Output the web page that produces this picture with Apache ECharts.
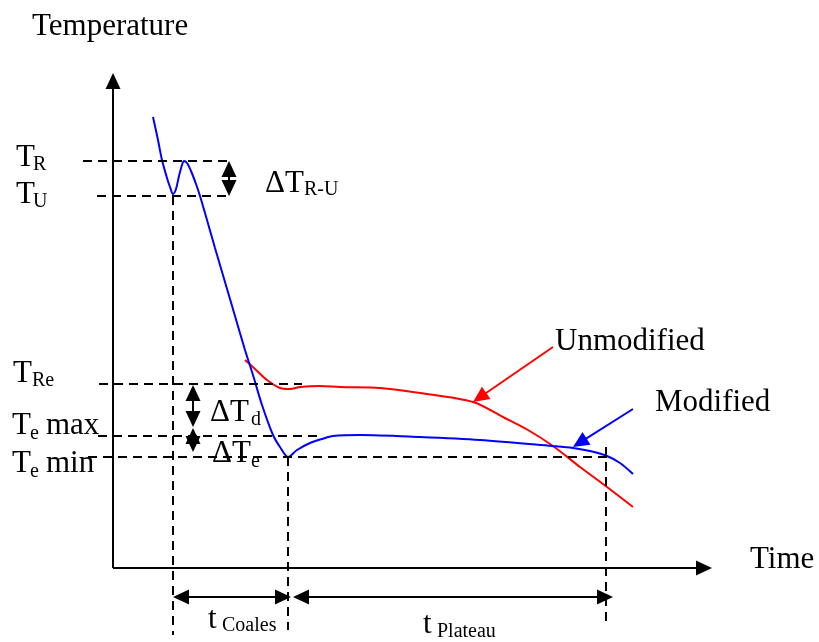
<!DOCTYPE html>
<html>
<head>
<meta charset="utf-8">
<script src="https://cdn.jsdelivr.net/npm/echarts@6/dist/echarts.min.js"></script>
<style>
  html, body { margin: 0; background: #fff; }
  #chart { width: 819px; height: 642px; }
</style>
</head>
<body>
<div id="chart"></div>
<script>
// cooling curves, arbitrary units (time right, temperature up)
const modifiedTime = [40, 45, 49, 54, 57, 60, 63, 66, 69, 71, 74, 78, 83, 87, 94, 102, 112, 122, 132, 140, 149, 160, 167, 175, 184, 197, 209, 220, 247, 307, 367, 439, 460, 477, 494, 507, 520];
const modifiedTemp = [451, 428, 408, 390, 381, 374, 379, 392, 403, 407, 405, 397, 384, 372, 348, 320, 286, 252, 218, 193, 163, 133, 121, 111, 118, 125, 129, 132, 133, 131, 128, 122, 120, 117, 112, 105, 94];
const unmodifiedTime = [132, 142, 154, 167, 177, 187, 207, 227, 267, 307, 360, 390, 415, 440, 467, 494, 520];
const unmodifiedTemp = [208, 199, 188, 180, 179, 181, 182, 181, 180, 175, 166, 151, 138, 122, 101, 81, 61];

// characteristic levels
const tempR = 407, tempU = 372, tempRe = 184, tempEMax = 132, tempEMin = 111;
const timeU = 60, timeEMin = 175, timePlateauEnd = 493;

const black = '#000';
const dashed = { color: black, width: 2, type: [9, 6] };
const solid = { color: black, width: 2, type: 'solid' };

// markLine puts the symbol centre on the end point, so pull arrow ends in by half a head
function seg(a, b, style, heads) {
  heads = heads || [false, false];
  const dx = b[0] - a[0], dy = b[1] - a[1];
  const len = Math.hypot(dx, dy), h = 8;
  const ux = dx / len, uy = dy / len;
  const p = heads[0] ? [a[0] + ux * h, a[1] + uy * h] : a;
  const q = heads[1] ? [b[0] - ux * h, b[1] - uy * h] : b;
  return [
    { coord: p, symbol: heads[0] ? 'triangle' : 'none', symbolSize: [15, 16], lineStyle: style },
    { coord: q, symbol: heads[1] ? 'triangle' : 'none', symbolSize: [15, 16], lineStyle: style }
  ];
}

const guides = [
  // axes
  seg([0, 0], [599, 0], solid, [false, true]),
  seg([0, 0], [0, 495], solid, [false, true]),
  // level lines
  seg([-30, tempR], [114, tempR], dashed),
  seg([-16, tempU], [117, tempU], dashed),
  seg([-14, tempRe], [189, tempRe], dashed),
  seg([-15, tempEMax], [205, tempEMax], dashed),
  seg([-25, tempEMin], [500, tempEMin], dashed),
  seg([timeU, tempU], [timeU, -67], dashed),
  seg([timeEMin, tempEMin], [timeEMin, -62], dashed),
  seg([timePlateauEnd, 121], [timePlateauEnd, -54], dashed),
  // double arrows
  seg([116, tempR], [116, tempU], solid, [true, true]),
  seg([80, 183], [80, 141], solid, [true, true]),
  seg([80, 140], [80, 116], solid, [true, true]),
  seg([timeU, -29], [178, -29], solid, [true, true]),
  seg([180, -29], [500, -29], solid, [true, true]),
  // pointers
  seg([440, 221], [360, 166], { color: '#ff0000', width: 2, type: 'solid' }, [false, true]),
  seg([520, 159], [460, 121], { color: '#0000ff', width: 2, type: 'solid' }, [false, true])
];

// text: [x, baseline, text, size]
const labels = [
  [32, 36, 'Temperature', 31],
  [16, 167, 'T', 31], [33, 171, 'R', 20],
  [16, 204, 'T', 31], [33, 208, 'U', 20],
  [265, 193, 'ΔT', 31], [304, 196, 'R-U', 20],
  [13, 383, 'T', 31], [32, 387, 'Re', 20],
  [210, 422, 'ΔT', 31], [251, 426, 'd', 20],
  [12, 435, 'T', 31], [30, 440, 'e', 20], [46, 435, 'max', 31],
  [12, 473, 'T', 31], [30, 478, 'e', 20], [46, 473, 'min', 31],
  [212, 463, 'ΔT', 31], [251, 468, 'e', 20],
  [555, 351, 'Unmodified', 31],
  [655, 412, 'Modified', 31],
  [750, 569, 'Time', 31],
  [208, 629, 't', 31], [222, 632, 'Coales', 20],
  [423, 634, 't', 31], [437, 638, 'Plateau', 20]
];

const chart = echarts.init(document.getElementById('chart'));
chart.setOption({
  animation: false,
  backgroundColor: '#fff',
  grid: { left: 0, right: 0, top: 0, bottom: 0 },
  xAxis: { type: 'value', min: -113, max: 706, show: false },
  yAxis: { type: 'value', min: -74, max: 568, show: false },
  series: [
    {
      type: 'line',
      data: [],
      silent: true,
      markLine: {
        silent: true,
        label: { show: false },
        emphasis: { disabled: true },
        data: guides
      }
    },
    {
      name: 'Unmodified',
      type: 'line',
      smooth: 0.3,
      showSymbol: false,
      lineStyle: { color: '#ff0000', width: 2 },
      data: unmodifiedTime.map((t, i) => [t, unmodifiedTemp[i]])
    },
    {
      name: 'Modified',
      type: 'line',
      smooth: 0.3,
      showSymbol: false,
      lineStyle: { color: '#0000ff', width: 2 },
      data: modifiedTime.map((t, i) => [t, modifiedTemp[i]])
    }
  ],
  graphic: labels.map(([x, base, text, size]) => ({
    type: 'text',
    x: x,
    y: base - 0.3 * size,
    silent: true,
    style: {
      text: text,
      font: size + 'px "Liberation Serif"',
      fill: black,
      verticalAlign: 'middle'
    }
  }))
});
</script>
</body>
</html>
